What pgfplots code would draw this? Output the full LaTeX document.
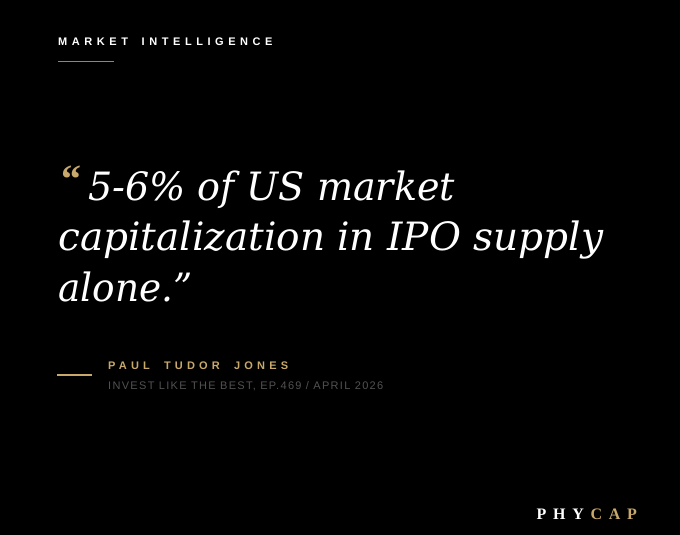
\documentclass[border=0pt]{standalone}
\usepackage{pgfplots}
\pgfplotsset{compat=1.18}
\usepackage{fontspec}
\setmainfont{Liberation Sans}
\newfontfamily\quotefontA[FakeStretch=0.976]{DejaVu Serif}
\newfontfamily\quotefontB{DejaVu Serif}
\newfontfamily\quotefontC[FakeStretch=0.96]{DejaVu Serif}
\newfontfamily\markfont{Liberation Serif}
\newfontfamily\trackfont[LetterSpace=41.5]{Liberation Sans}
\newfontfamily\namefont[LetterSpace=38]{Liberation Sans}
\newfontfamily\subfont[LetterSpace=12]{Liberation Sans}
\newfontfamily\logofont[LetterSpace=42]{Liberation Serif}
\definecolor{gold}{HTML}{C8A86B}
\definecolor{dimgold}{HTML}{9A8560}
\definecolor{subgrey}{HTML}{525252}
\begin{document}
\begin{tikzpicture}
\begin{axis}[
  width=680pt, height=535pt, scale only axis,
  xmin=0, xmax=680, ymin=0, ymax=535,
  hide axis, clip=false]
\fill[black] (axis cs:0,0) rectangle (axis cs:680,535);
% header
\node[anchor=base west, inner sep=0, text=white] at (axis cs:58,489)
  {\trackfont\bfseries\fontsize{11}{13}\selectfont MARKET\kern6pt{} INTELLIGENCE};
\addplot[dimgold, line width=1.2pt, forget plot] coordinates {(58,473.5) (114,473.5)};
% quote
\node[anchor=base west, inner sep=0, text=gold] at (axis cs:61,342)
  {\markfont\bfseries\fontsize{40}{48}\selectfont “};
\node[anchor=base west, inner sep=0, text=white] at (axis cs:88,334)
  {\quotefontA\itshape\fontsize{39}{48}\selectfont 5-6\% of US market};
\node[anchor=base west, inner sep=0, text=white] at (axis cs:58,284)
  {\quotefontB\itshape\fontsize{39}{48}\selectfont capitalization in IPO supply};
\node[anchor=base west, inner sep=0, text=white] at (axis cs:58,233)
  {\quotefontC\itshape\fontsize{39}{48}\selectfont alone.”};
% attribution
\addplot[gold, line width=1.2pt, forget plot] coordinates {(57,160) (92,160)};
\node[anchor=base west, inner sep=0, text=gold] at (axis cs:108,165.5)
  {\namefont\bfseries\fontsize{11}{13}\selectfont PAUL\kern7pt{} TUDOR\kern7pt{} JONES};
\node[anchor=base west, inner sep=0, text=subgrey] at (axis cs:108,145.5)
  {\subfont\fontsize{11}{13}\selectfont INVEST LIKE THE BEST, EP.469 / APRIL 2026};
% logo
\node[anchor=base west, inner sep=0] at (axis cs:536.5,15.7)
  {\logofont\bfseries\fontsize{16}{18}\selectfont\textcolor{white}{PHY}\kern0.42em\textcolor{gold}{CAP}};
\end{axis}
\end{tikzpicture}
\end{document}
